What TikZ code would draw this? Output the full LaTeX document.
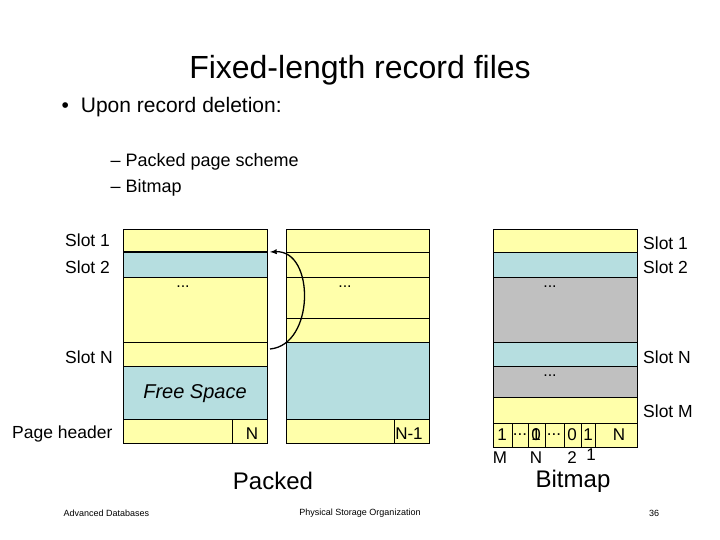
\documentclass[tikz,border=0pt]{standalone}
\usepackage{fontspec}
\setmainfont{Liberation Sans}
\begin{document}
\begin{tikzpicture}[x=1pt,y=-1pt,
  lab/.style={font=\fontsize{17.5}{20}\selectfont,inner sep=0pt},
  cel/.style={font=\fontsize{17}{20}\selectfont,inner sep=0pt},
  dts/.style={font=\fontsize{16}{20}\selectfont,inner sep=0pt}]
\definecolor{Yc}{RGB}{255,255,170}
\definecolor{Bc}{RGB}{182,222,224}
\definecolor{Gc}{RGB}{192,192,192}
\tikzset{yel/.style={fill=Yc,draw=black,line width=0.5pt},blu/.style={fill=Bc,draw=black,line width=0.5pt},gry/.style={fill=Gc,draw=black,line width=0.5pt}}
\useasboundingbox (0,0) rectangle (720,540);
\node[font=\fontsize{32}{36}\selectfont] (title) at (360,70) {Fixed-length record files};
\node[anchor=west,font=\fontsize{21}{24}\selectfont] (b1) at (58,107) {•\hspace{12pt}Upon record deletion:};
\node[anchor=west,font=\fontsize{18}{20}\selectfont] (s1) at (107,162) {–\hspace{5pt}Packed page scheme};
\node[anchor=west,font=\fontsize{18}{20}\selectfont] (s2) at (107,188) {–\hspace{5pt}Bitmap};
% left box
\path[yel] (123,229) rectangle (267,252);
\path[blu] (123,252) rectangle (267,277);
\path[yel] (123,277) rectangle (267,342);
\path[yel] (123,342) rectangle (267,366);
\path[blu] (123,366) rectangle (267,419);
\path[yel] (123,419) rectangle (232,443);
\path[yel] (232,419) rectangle (267,443);
\draw[line width=1.3pt] (123,252) -- (267,252);
\node[dts] (d1) at (183,287) {...};
\node[font=\itshape\fontsize{20}{24}\selectfont] (fs) at (195,394) {Free Space};
\node[cel] (n1) at (252,434) {N};
% middle box
\path[yel] (286,229) rectangle (429,252);
\path[yel] (286,252) rectangle (429,277);
\path[yel] (286,277) rectangle (429,318);
\path[yel] (286,318) rectangle (429,342);
\path[blu] (286,342) rectangle (429,419);
\path[yel] (286,419) rectangle (394,443);
\path[yel] (394,419) rectangle (429,443);
\node[dts] (d2) at (345,287) {...};
\node[cel] (n2) at (409,434) {N-1};
\coordinate (as) at (270,349);
\coordinate (ae) at (270,252);
\draw[line width=1.3pt,-latex] (as) .. controls (315,345) and (315,250) .. (ae);
% right box
\path[yel] (493,229) rectangle (637,252);
\path[blu] (493,252) rectangle (637,277);
\path[gry] (493,277) rectangle (637,342);
\path[blu] (493,342) rectangle (637,366);
\path[gry] (493,366) rectangle (637,397);
\path[yel] (493,397) rectangle (637,423);
\foreach \a/\b in {493/512,512/528,528/545,545/564,564/581,581/595,595/637} \path[yel] (\a,423) rectangle (\b,447);
\node[dts] (d3) at (550,287) {...};
\node[dts] (d4) at (550,376) {...};
\node[cel] (c1) at (502,435) {1};
\node[cel] (c2) at (520,435) {...};
\node[cel] (c3) at (536,435) {\makebox[0pt]{0}\makebox[0pt]{1}};
\node[cel] (c4) at (554,435) {...};
\node[cel] (c5) at (572,435) {0};
\node[cel] (c6) at (588,435) {1};
\node[cel] (c7) at (619,435) {N};
\node[cel] (bm) at (500,458) {M};
\node[cel] (bn) at (536,458) {N};
\node[cel] (b2) at (572,458) {2};
\node[cel] (b1x) at (591,455) {1};
% labels
\node[lab,anchor=west] (l1) at (65,240) {Slot 1};
\node[lab,anchor=west] (l2) at (65,267) {Slot 2};
\node[lab,anchor=west] (l3) at (65,357) {Slot N};
\node[lab,anchor=west] (l4) at (12,434) {Page header};
\node[lab,anchor=west] (r1) at (643,243) {Slot 1};
\node[lab,anchor=west] (r2) at (643,267) {Slot 2};
\node[lab,anchor=west] (r3) at (643,357) {Slot N};
\node[lab,anchor=west] (r4) at (643,411) {Slot M};
\node[font=\fontsize{24}{28}\selectfont] (pk) at (273,481) {Packed};
\node[font=\fontsize{24}{28}\selectfont] (bmp) at (573,481) {Bitmap};
\node[font=\fontsize{9}{10}\selectfont,anchor=west] (f1) at (60,513) {Advanced Databases};
\node[font=\fontsize{9}{10}\selectfont] (f2) at (360,513) {Physical Storage Organization};
\node[font=\fontsize{9}{10}\selectfont] (f3) at (654,513) {36};
\end{tikzpicture}
\end{document}
